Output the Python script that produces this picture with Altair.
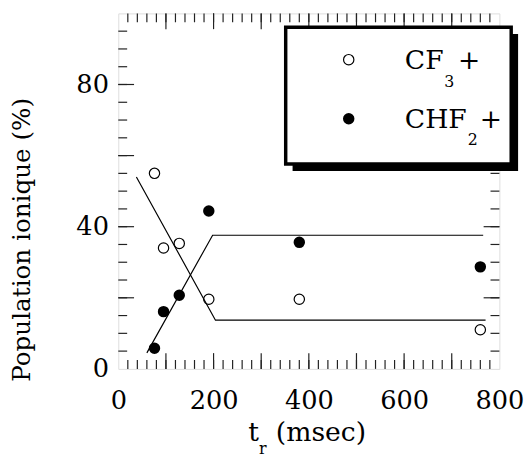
import altair as alt
import pandas as pd

# ---- data ----
t_obs = [76, 95, 128, 190, 380, 760]
cf3 = [55.0, 34.0, 35.3, 19.6, 19.6, 11.0]
chf2 = [5.8, 16.1, 20.7, 44.4, 35.6, 28.7]

cf3_fit_t = [38, 204, 771]
cf3_fit = [54.0, 13.7, 13.7]
chf2_fit_t = [60, 198, 766]
chf2_fit = [4.5, 37.6, 37.6]

x_labels = [0, 200, 400, 600, 800]
y_labels = [0, 40, 80]
x_minor = list(range(20, 800, 20))
x_major = list(range(100, 800, 100))
y_minor = list(range(5, 100, 5))
y_major = list(range(20, 100, 20))

W, H = 387, 361
FONT = "DejaVu Serif"
FS = 27
INK = "#222222"

pts = pd.DataFrame({"t": t_obs * 2, "v": cf3 + chf2,
                    "s": ["CF3+"] * 6 + ["CHF2+"] * 6})
fits = pd.DataFrame({"t": cf3_fit_t + chf2_fit_t, "v": cf3_fit + chf2_fit,
                     "s": ["CF3+"] * 3 + ["CHF2+"] * 3, "o": [0, 1, 2] * 2})

xs = alt.Scale(domain=[0, 800], nice=False, zero=False)
ys = alt.Scale(domain=[0, 100], nice=False, zero=False)

x_axis = alt.Axis(values=x_labels, ticks=False, domain=False, grid=False,
                  labelFont=FONT, labelFontSize=26, labelColor="black",
                  labelPadding=19, title=None, labelFlush=False)
y_axis = alt.Axis(values=y_labels, ticks=False, domain=False, grid=False,
                  labelFont=FONT, labelFontSize=26, labelColor="black",
                  labelPadding=10, title=None)

X = alt.X("t:Q", scale=xs, axis=x_axis)
Y = alt.Y("v:Q", scale=ys, axis=y_axis)

lines = alt.Chart(fits).mark_line(color="black", strokeWidth=1.2).encode(
    x=X, y=Y, detail="s:N", order="o:Q")

open_pts = alt.Chart(pts[pts.s == "CF3+"]).mark_point(
    shape="circle", filled=False, color="black", strokeWidth=1.2, size=110, opacity=1
).encode(x=alt.X("t:Q", scale=xs, axis=x_axis), y=alt.Y("v:Q", scale=ys, axis=y_axis))

fill_pts = alt.Chart(pts[pts.s == "CHF2+"]).mark_circle(
    color="black", size=135, opacity=1
).encode(x=alt.X("t:Q", scale=xs, axis=x_axis), y=alt.Y("v:Q", scale=ys, axis=y_axis))

# ---- inner ticks on all four sides ----
def xticks(vals, y0, y1):
    return alt.Chart(pd.DataFrame({"tx": vals})).mark_rule(color=INK, strokeWidth=1.2).encode(
        x=alt.X("tx:Q", scale=xs, axis=x_axis), y=alt.value(y0), y2=alt.value(y1))

def yticks(vals, x0, x1):
    return alt.Chart(pd.DataFrame({"ty": vals})).mark_rule(color=INK, strokeWidth=1.2).encode(
        y=alt.Y("ty:Q", scale=ys, axis=y_axis), x=alt.value(x0), x2=alt.value(x1))

ticks = [
    xticks(x_minor, H, H - 9), xticks(x_major, H, H - 16),
    xticks(x_minor, 0, 9), xticks(x_major, 0, 16),
    yticks(y_minor, 0, 9), yticks(y_major, 0, 16),
    yticks(y_minor, W, W - 9), yticks(y_major, W, W - 16),
]

# ---- legend box with shadow ----
lx0, lx1, ly0, ly1 = 170, 399, 14, 153
shadow = alt.Chart(pd.DataFrame({"a": [0]})).mark_rect(color="black").encode(
    x=alt.value(lx0 + 7), x2=alt.value(lx1 + 7), y=alt.value(ly0 + 7), y2=alt.value(ly1 + 7))
box = alt.Chart(pd.DataFrame({"a": [0]})).mark_rect(
    fill="white", stroke="black", strokeWidth=3.5).encode(
    x=alt.value(lx0), x2=alt.value(lx1), y=alt.value(ly0), y2=alt.value(ly1))

leg_open = alt.Chart(pd.DataFrame({"a": [0]})).mark_point(
    shape="circle", filled=False, color="black", strokeWidth=1.2, size=110, opacity=1
).encode(x=alt.value(234), y=alt.value(47))
leg_fill = alt.Chart(pd.DataFrame({"a": [0]})).mark_circle(
    color="black", size=135, opacity=1).encode(x=alt.value(234), y=alt.value(107))

def txt(s, x, y, size=FS, **kw):
    return alt.Chart(pd.DataFrame({"a": [0]})).mark_text(
        text=s, font=FONT, fontSize=size, color="black", align="left",
        baseline="alphabetic", **kw).encode(x=alt.value(x), y=alt.value(y))

legend_txt = [
    txt("CF", 291, 56), txt("3", 331, 75, 16), txt("+", 345, 56),
    txt("CHF", 291, 116), txt("2", 355, 134, 16), txt("+", 367, 116),
]

titles = [
    txt("t", 132, 434), txt("r", 143, 447, 16), txt("(msec)", 160, 434),
    alt.Chart(pd.DataFrame({"a": [0]})).mark_text(
        text="Population ionique (%)", font=FONT, fontSize=25, color="black",
        align="center", baseline="alphabetic", angle=270).encode(
        x=alt.value(-90), y=alt.value(230)),
]

chart = alt.layer(
    lines, *ticks, open_pts, fill_pts, shadow, box, leg_open, leg_fill,
    *legend_txt, *titles
).properties(
    width=W, height=H,
    padding={"left": 112, "top": 2, "right": 25, "bottom": 86},
    autosize=alt.AutoSizeParams(type="none"),
).configure_view(stroke=INK, strokeWidth=1.5).configure_axis(
    labelFont=FONT, labelFontSize=26
).configure(font=FONT)

chart.save("out.html", embed_options={"renderer": "svg", "actions": False})
